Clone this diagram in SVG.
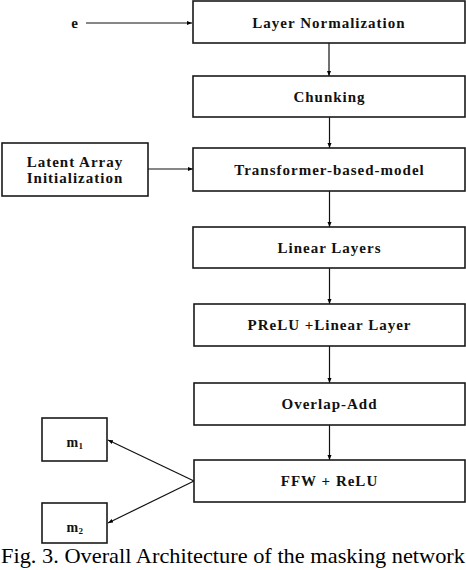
<svg xmlns="http://www.w3.org/2000/svg" width="466" height="570" viewBox="0 0 466 570">
<defs>
<marker id="ah" markerWidth="6" markerHeight="6" refX="5" refY="3" orient="auto" markerUnits="userSpaceOnUse">
<path d="M0,1 L5,3 L0,5 Z" fill="#000"/>
</marker>
</defs>
<style>
.box{fill:#fff;stroke:#1a1a1a;stroke-width:1.6}
.t{font-family:"Liberation Serif","Times New Roman",serif;font-weight:bold;font-size:15px;letter-spacing:1px;text-anchor:middle;fill:#111}
.c{stroke:#111;stroke-width:1.2;fill:none;marker-end:url(#ah)}
.cap{font-family:"Liberation Serif","Times New Roman",serif;font-size:21.5px;fill:#000}
</style>
<rect width="466" height="570" fill="#fff"/>
<g id="connectors">
<line class="c" x1="86" y1="23" x2="192" y2="23"/>
<line class="c" x1="329" y1="43" x2="329" y2="76"/>
<line class="c" x1="329.5" y1="117" x2="329.5" y2="148"/>
<line class="c" x1="148" y1="169" x2="193" y2="169"/>
<line class="c" x1="329.5" y1="191" x2="329.5" y2="227"/>
<line class="c" x1="329.5" y1="268" x2="329.5" y2="304"/>
<line class="c" x1="329.5" y1="346" x2="329.5" y2="383"/>
<line class="c" x1="329.5" y1="425" x2="329.5" y2="460"/>
<line class="c" x1="194" y1="481" x2="108" y2="440"/>
<line class="c" x1="194" y1="481" x2="108" y2="523"/>
</g>
<g id="e"><text class="t" x="75" y="28">e</text></g>
<g id="layernorm"><rect class="box" x="193" y="1" width="272" height="42"/><text class="t" x="329" y="28">Layer Normalization</text></g>
<g id="chunking"><rect class="box" x="193" y="76" width="272" height="41"/><text class="t" x="329.5" y="102">Chunking</text></g>
<g id="latent"><rect class="box" x="2" y="143" width="146" height="53"/><text class="t" x="75" y="167">Latent Array</text><text class="t" x="75" y="183">Initialization</text></g>
<g id="transformer"><rect class="box" x="193" y="148" width="272" height="43"/><text class="t" x="329.5" y="175">Transformer-based-model</text></g>
<g id="linear"><rect class="box" x="193" y="227" width="272" height="41"/><text class="t" x="329.5" y="253">Linear Layers</text></g>
<g id="prelu"><rect class="box" x="194" y="304" width="271" height="42"/><text class="t" x="329.5" y="330">PReLU +Linear Layer</text></g>
<g id="overlap"><rect class="box" x="194" y="383" width="271" height="42"/><text class="t" x="329.5" y="409">Overlap-Add</text></g>
<g id="ffw"><rect class="box" x="194" y="460" width="271" height="42"/><text class="t" x="329.5" y="486">FFW + ReLU</text></g>
<g id="m1"><rect class="box" x="42" y="418" width="65" height="43"/><text class="t" x="75" y="447" style="font-size:14px;letter-spacing:0.5px">m<tspan dy="2" style="font-size:9px">1</tspan></text></g>
<g id="m2"><rect class="box" x="42" y="503" width="65" height="40"/><text class="t" x="75" y="532" style="font-size:14px;letter-spacing:0.5px">m<tspan dy="2" style="font-size:9px">2</tspan></text></g>
<text class="cap" x="1" y="563" textLength="464" lengthAdjust="spacingAndGlyphs">Fig. 3. Overall Architecture of the masking network</text>
</svg>
